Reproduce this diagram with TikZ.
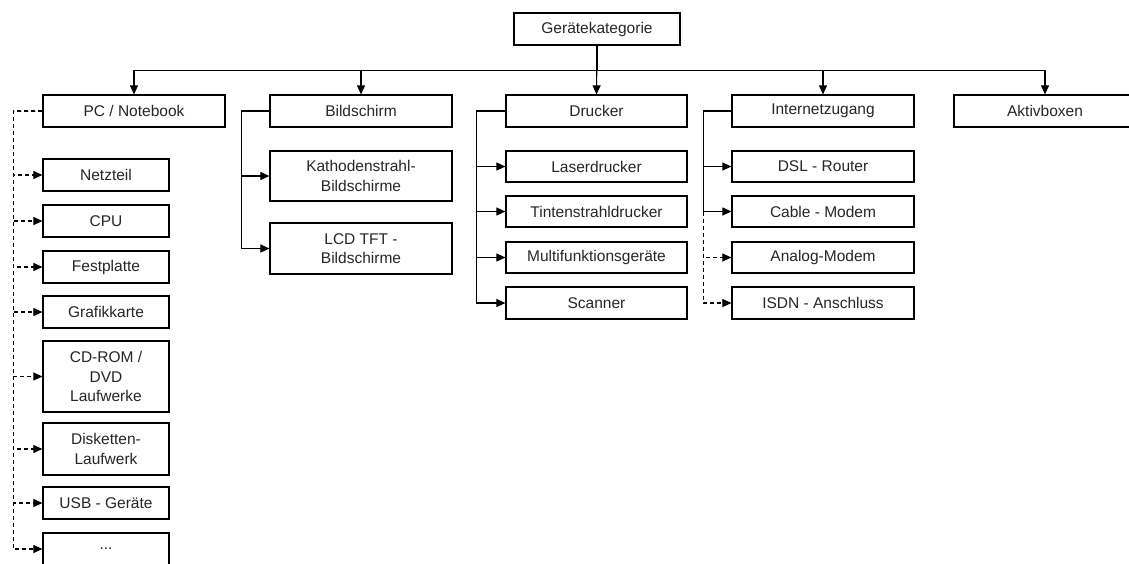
\documentclass[tikz,border=0pt]{standalone}
\usepackage{fontspec}
\setmainfont{Liberation Sans}
\usetikzlibrary{arrows.meta}
\begin{document}
\begin{tikzpicture}[x=1pt,y=-1pt,
  box/.style={draw=black, line width=1.2pt, inner sep=0pt, align=center,
    font=\fontsize{15.5}{19.5}\selectfont, text=black!85},
  wide/.style={box, minimum width=182pt, minimum height=32pt},
  small/.style={box, minimum width=126pt, minimum height=32pt},
  conn/.style={line width=1.1pt, -{Triangle[length=9pt,width=8pt]}},
  dconn/.style={conn, dash pattern=on 4pt off 3pt}]
\useasboundingbox (0,0) rectangle (1129,563);
\fill[white] (0,0) rectangle (1129,563);
\clip (0,0) rectangle (1129,563);

% root
\node[box, minimum width=166pt, minimum height=32pt] (root) at (597,29) {Gerätekategorie};

% level 1
\node[wide] (pc) at (134,111) {PC / Notebook};
\node[wide] (bild) at (361,111) {Bildschirm};
\node[wide, minimum width=181pt] (druck) at (596.5,111) {Drucker};
\node[wide] (inet) at (823,111) {Internetzugang};
\node[wide] (aktiv) at (1045,111) {Aktivboxen};

% PC children
\node[small] (netz) at (106,175) {Netzteil};
\node[small] (cpu) at (106,221) {CPU};
\node[small] (fest) at (106,267) {Festplatte};
\node[small] (grafik) at (106,312) {Grafikkarte};
\node[small, minimum height=71pt] (cdrom) at (106,376.5) {CD-ROM /\\DVD\\Laufwerke};
\node[small, minimum height=52pt] (disk) at (106,449) {Disketten-\\Laufwerk};
\node[small] (usb) at (106,503) {USB - Geräte};
\node[small] (more) at (106,549) {...};

% Bildschirm children
\node[wide, minimum height=50pt] (kath) at (361,176) {Kathodenstrahl-\\Bildschirme};
\node[wide, minimum height=51pt] (lcd) at (361,248.5) {LCD TFT -\\Bildschirme};

% Drucker children
\node[wide, minimum width=181pt, minimum height=31pt] (laser) at (596.5,166.5) {Laserdrucker};
\node[wide, minimum width=181pt, minimum height=31pt] (tinte) at (596.5,211.5) {Tintenstrahldrucker};
\node[wide, minimum width=181pt, minimum height=31pt] (multi) at (596.5,257.5) {Multifunktionsgeräte};
\node[wide, minimum width=181pt] (scan) at (596.5,303) {Scanner};

% Internet children
\node[wide, minimum height=31pt] (dsl) at (823,166.5) {DSL - Router};
\node[wide, minimum height=31pt] (cable) at (823,211.5) {Cable - Modem};
\node[wide, minimum height=31pt] (analog) at (823,257.5) {Analog-Modem};
\node[wide] (isdn) at (823,303) {ISDN - Anschluss};

% top bus
\draw[conn] (root.south) -- (druck.north);
\foreach \n in {pc,bild,inet,aktiv}
  \draw[conn] (root.south) -- ++(0,25) -| (\n.north);

% PC dashed
\foreach \n in {netz,cpu,fest,grafik,cdrom,disk,usb,more}
  \draw[dconn] (pc.west) -- ++(-29,0) |- (\n.west);

% Bildschirm
\foreach \n in {kath,lcd}
  \draw[conn] (bild.west) -- ++(-28,0) |- (\n.west);

% Drucker
\foreach \n in {laser,tinte,multi,scan}
  \draw[conn] (druck.west) -- ++(-29,0) |- (\n.west);

% Internet
\foreach \n in {dsl,cable}
  \draw[conn] (inet.west) -- ++(-28,0) |- (\n.west);
\path (cable.west) ++(-28,0) coordinate (ibus);
\foreach \n in {analog,isdn}
  \draw[dconn] (ibus) |- (\n.west);
\end{tikzpicture}
\end{document}
